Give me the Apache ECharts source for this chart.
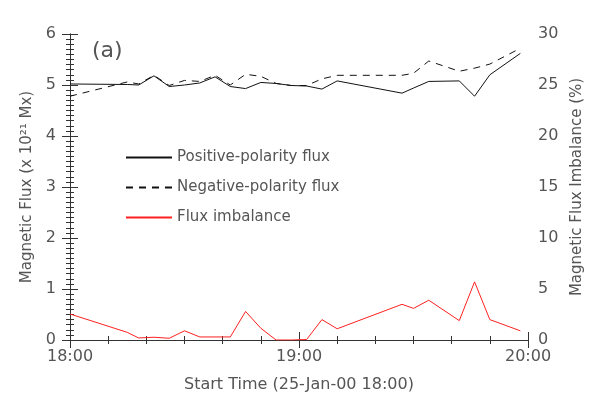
<!DOCTYPE html>
<html>
<head>
<meta charset="utf-8">
<script src="https://cdn.jsdelivr.net/npm/echarts@6/dist/echarts.min.js"></script>
<style>
  html, body { margin: 0; padding: 0; background: #fff; }
  #chart { width: 599px; height: 409px; }
</style>
</head>
<body>
<div id="chart"></div>
<script>
// minutes after 18:00
const minutes = [0, 15, 18, 22, 26, 30, 34, 38, 42, 46, 50, 54, 58, 62, 66, 70, 87, 90, 94, 102, 106, 110, 118]
const positiveFlux = [5.02, 5.01, 5.0, 5.18, 4.97, 5.0, 5.04, 5.16, 4.97, 4.93, 5.05, 5.03, 4.99, 4.98, 4.92, 5.08, 4.84, 4.94, 5.07, 5.08, 4.78, 5.2, 5.62]
const negativeFlux = [4.78, 5.06, 5.02, 5.19, 4.99, 5.09, 5.07, 5.19, 5.0, 5.21, 5.17, 5.03, 4.99, 4.99, 5.12, 5.19, 5.19, 5.23, 5.47, 5.27, 5.33, 5.41, 5.72]
const imbalance = [2.55, 0.75, 0.2, 0.27, 0.17, 0.9, 0.3, 0.3, 0.3, 2.8, 1.15, 0.0, 0.0, 0.05, 2.0, 1.1, 3.5, 3.1, 3.9, 1.9, 5.7, 2.0, 0.9]
const xTickLabels = ['18:00', '19:00', '20:00']

const txt = '#555'
const axisCol = '#333'
const font = 'DejaVu Sans'

const pairs = (ys) => minutes.map((m, i) => [m, ys[i]])

const chart = echarts.init(document.getElementById('chart'))
chart.setOption({
  animation: false,
  textStyle: { fontFamily: font },
  grid: { left: 70, right: 71, top: 34, bottom: 69 },
  title: {
    text: '(a)',
    left: 87,
    top: 35,
    textStyle: { fontSize: 22, fontWeight: 'normal', color: txt, fontFamily: font },
  },
  legend: {
    orient: 'vertical',
    left: 120,
    top: 145,
    itemWidth: 46,
    itemHeight: 14,
    itemGap: 15,
    itemStyle: { opacity: 0 },
    textStyle: { fontSize: 15, color: txt, fontFamily: font },
    data: ['Positive-polarity flux', 'Negative-polarity flux', 'Flux imbalance'],
  },
  xAxis: [{
    type: 'value',
    min: 0,
    max: 120,
    interval: 60,
    name: 'Start Time (25-Jan-00 18:00)',
    nameLocation: 'middle',
    nameGap: 37,
    nameTextStyle: { fontSize: 16, color: txt },
    axisLine: { lineStyle: { color: axisCol } },
    axisTick: { inside: true, length: 8, lineStyle: { color: axisCol } },
    minorTick: { show: true, splitNumber: 6, length: 4, lineStyle: { color: axisCol } },
    axisLabel: {
      margin: 9,
      fontSize: 16,
      color: txt,
      formatter: (v) => xTickLabels[v / 60],
    },
    splitLine: { show: false },
  }, {
    type: 'value',
    position: 'top',
    min: 0,
    max: 120,
    interval: 60,
    axisLine: { show: true, lineStyle: { color: axisCol } },
    axisTick: { inside: true, length: 8, lineStyle: { color: axisCol } },
    minorTick: { show: true, splitNumber: 6, length: 4, lineStyle: { color: axisCol } },
    axisLabel: { show: false },
    splitLine: { show: false },
  }],
  yAxis: [{
    type: 'value',
    min: 0,
    max: 6,
    interval: 1,
    name: 'Magnetic Flux (x 10²¹ Mx)',
    nameLocation: 'middle',
    nameGap: 30,
    nameTextStyle: { fontSize: 15, color: txt },
    axisLine: { show: true, lineStyle: { color: axisCol } },
    axisTick: { show: true, inside: true, length: 8, lineStyle: { color: axisCol } },
    minorTick: { show: true, splitNumber: 10, length: 4, lineStyle: { color: axisCol } },
    axisLabel: { margin: 14, fontSize: 16, color: txt },
    splitLine: { show: false },
  }, {
    type: 'value',
    position: 'right',
    min: 0,
    max: 30,
    interval: 5,
    name: 'Magnetic Flux Imbalance (%)',
    nameLocation: 'middle',
    nameGap: 40,
    nameRotate: 90,
    nameTextStyle: { fontSize: 15, color: txt },
    axisLine: { show: true, lineStyle: { color: axisCol } },
    axisTick: { show: true, inside: true, length: 8, lineStyle: { color: axisCol } },
    minorTick: { show: true, splitNumber: 10, length: 4, lineStyle: { color: axisCol } },
    axisLabel: { margin: 10, fontSize: 16, color: txt },
    splitLine: { show: false },
  }],
  series: [{
    name: 'Positive-polarity flux',
    type: 'line',
    yAxisIndex: 0,
    symbol: 'none',
    data: pairs(positiveFlux),
    lineStyle: { color: '#111', width: 1 },
    itemStyle: { color: '#111' },
  }, {
    name: 'Negative-polarity flux',
    type: 'line',
    yAxisIndex: 0,
    symbol: 'none',
    data: pairs(negativeFlux),
    lineStyle: { color: '#111', width: 1, type: [7, 6] },
    itemStyle: { color: '#111' },
  }, {
    name: 'Flux imbalance',
    type: 'line',
    yAxisIndex: 1,
    symbol: 'none',
    data: pairs(imbalance),
    lineStyle: { color: '#ff2020', width: 1 },
    itemStyle: { color: '#ff2020' },
  }],
})
</script>
</body>
</html>
